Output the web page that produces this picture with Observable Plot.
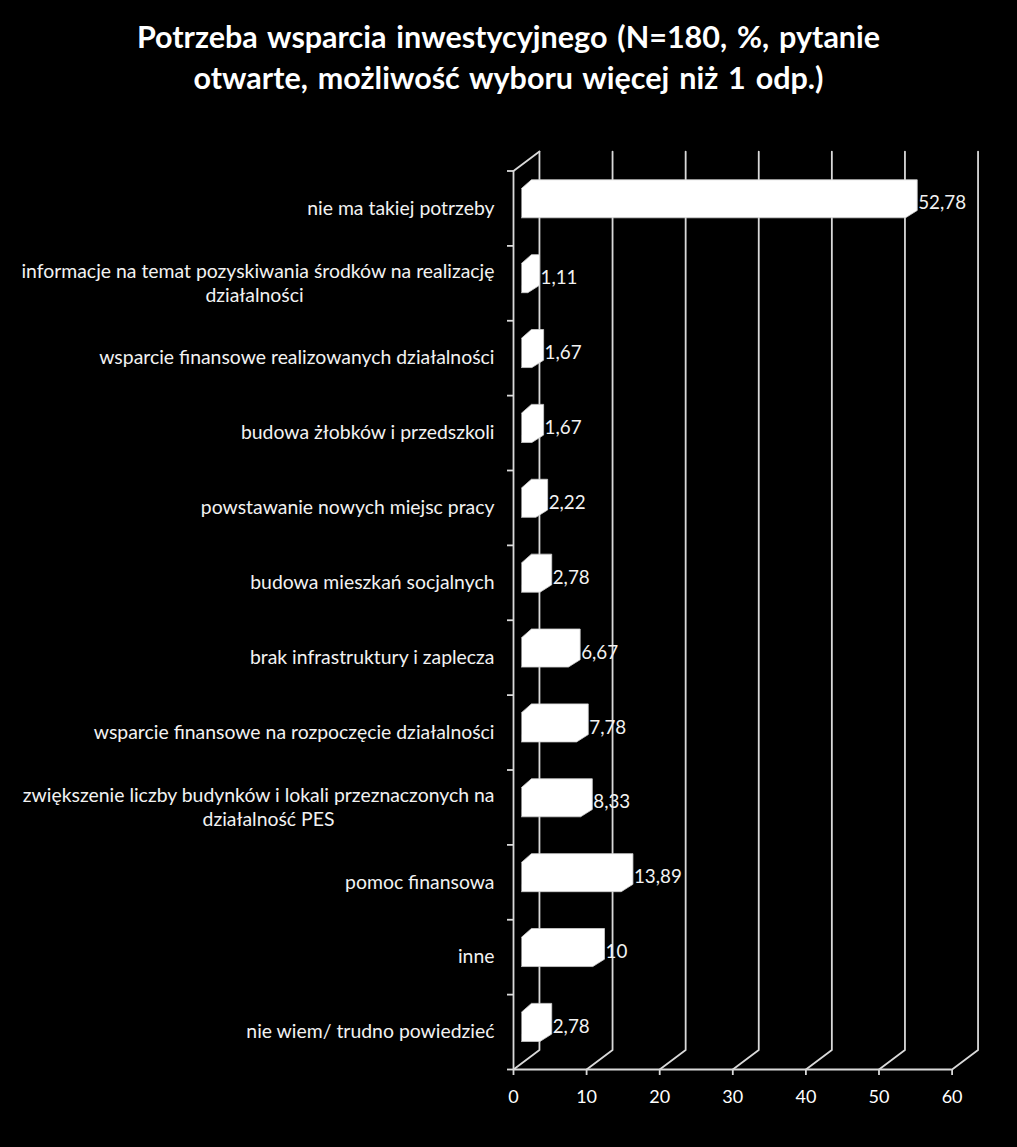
<!DOCTYPE html>
<html lang="pl">
<head>
<meta charset="utf-8">
<script src="https://cdn.jsdelivr.net/npm/d3@7"></script>
<script src="https://cdn.jsdelivr.net/npm/@observablehq/plot@0.6"></script>
<style>
html,body{margin:0;padding:0;background:#000;}
#title{height:130px;box-sizing:border-box;padding-top:16px;text-align:center;color:#fff;font:700 30.5px/41px Lato,sans-serif;word-spacing:2.5px;width:1017px;}
svg{display:block;}
</style>
</head>
<body>
<div id="title">Potrzeba wsparcia inwestycyjnego (N=180, %, pytanie<br>otwarte, możliwość wyboru więcej niż 1 odp.)</div>
<div id="chart"></div>
<script>
const categories = [
  "nie ma takiej potrzeby",
  "informacje na temat pozyskiwania środków na realizację\ndziałalności",
  "wsparcie finansowe realizowanych działalności",
  "budowa żłobków i przedszkoli",
  "powstawanie nowych miejsc pracy",
  "budowa mieszkań socjalnych",
  "brak infrastruktury i zaplecza",
  "wsparcie finansowe na rozpoczęcie działalności",
  "zwiększenie liczby budynków i lokali przeznaczonych na\ndziałalność PES",
  "pomoc finansowa",
  "inne",
  "nie wiem/ trudno powiedzieć"
];
const values = [52.78, 1.11, 1.67, 1.67, 2.22, 2.78, 6.67, 7.78, 8.33, 13.89, 10, 2.78];
const xTicks = [0, 10, 20, 30, 40, 50, 60];

const rows = categories.map((name, i) => ({name, i, value: values[i]}));
// Pseudo-3D depth, in data units
const wallX = 3.55, wallY = 0.26, n = categories.length;
const lineColor = "#d9d9d9";
const lineW = 1.8;

const grid = xTicks.flatMap(t => [
  {t, x: t, y: n},
  {t, x: t + wallX, y: n - wallY},
  {t, x: t + wallX, y: -wallY}
]);
const cornerTop = [{x: 0, y: 0}, {x: wallX, y: -wallY}];

const bars = rows.flatMap(({i, value}) => {
  const fx0 = 1.09, bx0 = 2.45, fx1 = value + 0.85, bx1 = value + 2.45;
  const ft = i + 0.234, fb = i + 0.625, bt = i + 0.117, bb = i + 0.527;
  return [
    [fx0, ft], [bx0, bt], [bx1, bt], [bx1, bb], [fx1, fb], [fx0, fb]
  ].map(([x, y]) => ({i, x, y}));
});

const labelStyle = {fontSize: 19.4, fill: "#f2f2f2"};
const wrapped = rows.filter(d => d.name.includes("\n"));
const single = rows.filter(d => !d.name.includes("\n"));

const plot = Plot.plot({
  width: 1017,
  height: 1017,
  marginTop: 40.5,
  marginBottom: 78,
  marginLeft: 513,
  marginRight: 65.4,
  style: {background: "#000", color: "#fff", fontFamily: "Lato, sans-serif"},
  x: {domain: [0, 60]},
  y: {domain: [n, 0], range: [939, 40.5]},
  marks: [
    Plot.line(grid, {x: "x", y: "y", z: "t", stroke: lineColor, strokeWidth: lineW}),
    Plot.line(cornerTop, {x: "x", y: "y", stroke: lineColor, strokeWidth: lineW}),
    Plot.ruleX([0], {stroke: lineColor, strokeWidth: lineW}),
    Plot.ruleY([n], {stroke: lineColor, strokeWidth: lineW}),
    Plot.axisX({
      anchor: "bottom", ticks: xTicks, tickSize: 6, tickPadding: 15,
      tickFormat: d => String(d), label: null, fontSize: 18, stroke: lineColor, strokeWidth: lineW, color: "#fff"
    }),
    Plot.axisY({
      anchor: "left", ticks: d3.range(n + 1), tickSize: 6, tickFormat: () => "",
      label: null, stroke: lineColor, strokeWidth: lineW
    }),
    Plot.line(bars, {x: "x", y: "y", z: "i", fill: "#fff", stroke: "#cfcfcf", strokeWidth: 0.8}),
    Plot.text(single, {
      x: 0, y: d => d.i + 0.5, text: "name", textAnchor: "end", dx: -19, ...labelStyle
    }),
    // wrapped labels: first line right-aligned, second line centred under it
    Plot.text(wrapped, {
      x: 0, y: d => d.i + 0.5, text: d => d.name.split("\n")[0], textAnchor: "end",
      dx: -19, dy: -12, ...labelStyle
    }),
    Plot.text(wrapped.slice(0, 1), {
      x: 0, y: d => d.i + 0.5, text: d => d.name.split("\n")[1], textAnchor: "middle",
      dx: -259, dy: 12, ...labelStyle
    }),
    Plot.text(wrapped.slice(1), {
      x: 0, y: d => d.i + 0.5, text: d => d.name.split("\n")[1], textAnchor: "middle",
      dx: -245, dy: 12, ...labelStyle
    }),
    Plot.text(rows, {
      x: d => d.value + 2.45, y: d => d.i + 0.5,
      text: d => String(d.value).replace(".", ","),
      textAnchor: "start", dx: 1, dy: -5, fontSize: 18.8, fill: "#f2f2f2"
    })
  ]
});
document.getElementById("chart").append(plot);
</script>
</body>
</html>
